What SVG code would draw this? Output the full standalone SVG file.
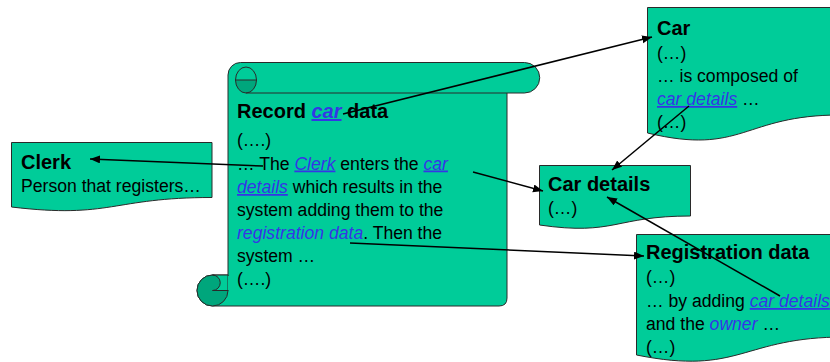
<svg xmlns="http://www.w3.org/2000/svg" width="830" height="362" viewBox="0 0 830 362">
<style>
.shape{fill:#00CC99;stroke:#2a2a2a;stroke-width:1}
.dark{fill:#00A67C;stroke:#2a2a2a;stroke-width:1}
.ln{fill:none;stroke:#2a2a2a;stroke-width:1}
text{font-family:"Liberation Sans",Arial,sans-serif;font-size:17.6px;fill:#000}
.t{font-weight:bold;font-size:20px}
.lk{fill:#3535E6;font-style:italic}
.u{text-decoration:underline}
.con line{stroke:#000;stroke-width:1.5;marker-end:url(#ah)}
</style>
<defs>
<marker id="ah" markerUnits="userSpaceOnUse" markerWidth="12" markerHeight="10" refX="10" refY="4" orient="auto">
<path d="M0,0 L10,4 L0,8 Z" fill="#000"/>
</marker>
</defs>
<g id="scroll">
<path class="shape" d="M228,290 L228,75 A12.5,12.5 0 0 1 240.5,62.5 L524.5,62.5 A15.25,15.25 0 0 1 524.5,93 L507,93 L507,298 Q507,306 499,306 L212.5,306 A15.5,15.5 0 0 1 212.5,275 L228,275"/>
<path class="ln" d="M235.5,80 A10.5,13 0 0 1 256.5,80"/>
<path class="dark" d="M235.5,80 L256.5,80 A10.5,13 0 0 1 246,93 A10.5,13 0 0 1 235.5,80 Z"/>
<path class="ln" d="M246,93 L507,93"/>
<circle class="dark" cx="212.5" cy="290.5" r="15.5"/>
<path class="shape" d="M212.5,275 L228,275 L228,290.5 L212.5,290.5 A7.75,7.75 0 0 0 212.5,275 Z"/>
<path d="M228.5,276 L228.5,290" stroke="#00CC99" stroke-width="1"/>
<text x="237" y="118" class="t">Record <tspan class="lk u">car</tspan> data</text>
<text x="237" y="146">(….)</text>
<text x="237" y="169.5">… The <tspan class="lk u">Clerk</tspan> enters the <tspan class="lk u">car</tspan></text>
<text x="237" y="193"><tspan class="lk u">details</tspan> which results in the</text>
<text x="237" y="216">system adding them to the</text>
<text x="237" y="239"><tspan class="lk">registration data</tspan>. Then the</text>
<text x="237" y="262">system …</text>
<text x="237" y="285">(….)</text>
</g>
<g id="clerk">
<path class="shape" d="M11.5,142.5 L212,142.5 L212,197.5 C111.5,197.5 111.5,219 11.5,207 Z"/>
<text x="21" y="169" class="t">Clerk</text>
<text x="21" y="192">Person that registers…</text>
</g>
<g id="car">
<path class="shape" d="M647.5,7.5 L840,7.5 L840,115 C743,115 743,156 647.5,133 Z"/>
<text x="657" y="35" class="t">Car</text>
<text x="657" y="59">(…)</text>
<text x="657" y="82">… is composed of</text>
<text x="657" y="105"><tspan class="lk u">car details</tspan> …</text>
<text x="657" y="128">(…)</text>
</g>
<g id="cardetails">
<path class="shape" d="M539.5,165.5 L690.5,165.5 L690.5,216 C615,216 615,236 539.5,225 Z"/>
<text x="548" y="191" class="t">Car details</text>
<text x="548" y="214">(…)</text>
</g>
<g id="registration">
<path class="shape" d="M636.5,234.5 L845,234.5 L845,337 C741,337 741,376 636.5,355 Z"/>
<text x="646" y="259" class="t">Registration data</text>
<text x="646" y="283">(…)</text>
<text x="646" y="307">… by adding <tspan class="lk u">car details</tspan></text>
<text x="646" y="330">and the <tspan class="lk">owner</tspan> …</text>
<text x="646" y="353">(…)</text>
</g>
<g id="connectors" class="con">
<line x1="343" y1="114" x2="652" y2="37"/>
<line x1="263" y1="166" x2="90" y2="159"/>
<line x1="473" y1="172" x2="543" y2="191"/>
<line x1="350" y1="243" x2="644" y2="256"/>
<line x1="689" y1="106" x2="612" y2="170"/>
<line x1="780" y1="296" x2="607" y2="197"/>
</g>
</svg>
